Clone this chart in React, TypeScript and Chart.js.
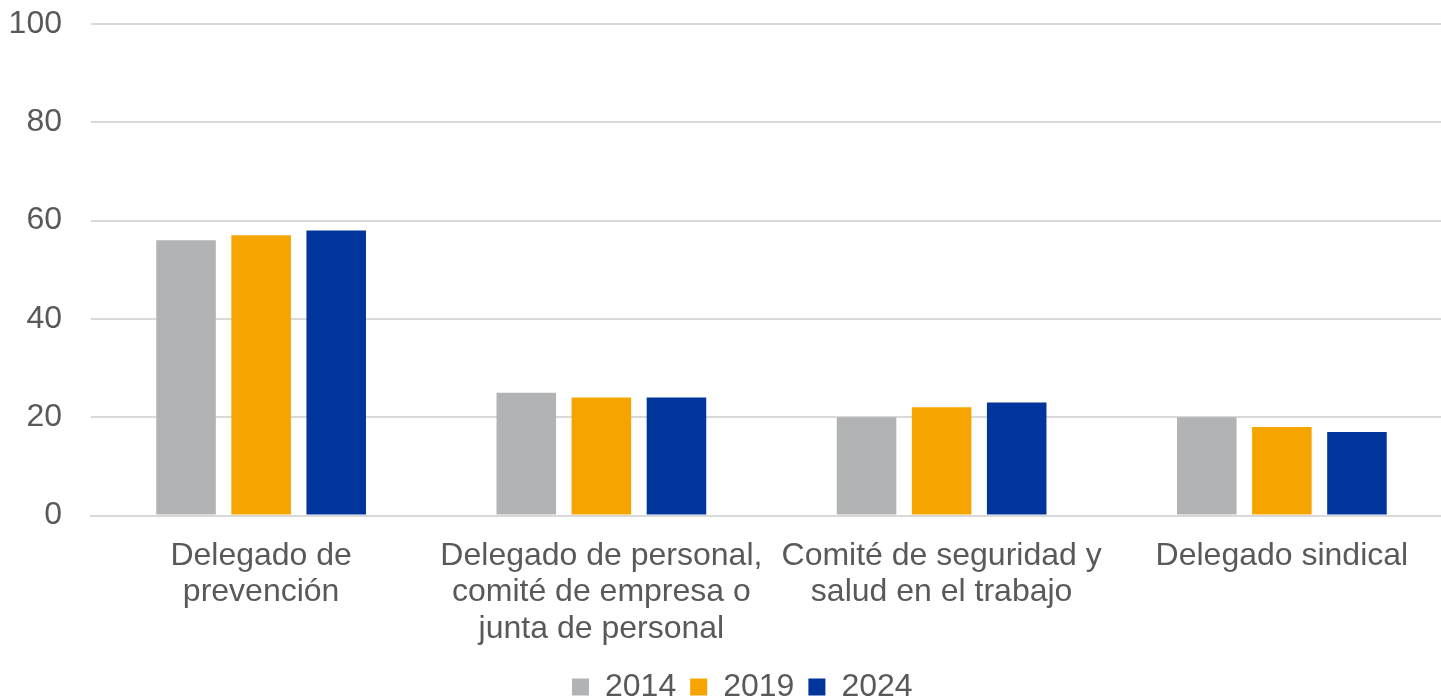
import React, { useEffect, useRef } from "react";
import { Chart, registerables } from "chart.js";

Chart.register(...registerables);

const categories: string[][] = [
  ["Delegado de", "prevención"],
  ["Delegado de personal,", "comité de empresa o", "junta de personal"],
  ["Comité de seguridad y", "salud en el trabajo"],
  ["Delegado sindical"],
];
const seriesLabels = ["2014", "2019", "2024"];
const values2014 = [56, 25, 20, 20];
const values2019 = [57, 24, 22, 18];
const values2024 = [58, 24, 23, 17];
const seriesColors = ["#B2B3B5", "#F5A400", "#00359B"];
const yMin = 0;
const yMax = 100;
const yStep = 20;

const FONT = '"Liberation Sans", Arial, Helvetica, sans-serif';
const TEXT = "#595959";
const GRID = "#D9D9D9";

const legendShift = {
  id: "legendShift",
  afterLayout(chart: any) {
    const l = chart.legend;
    if (l) {
      l.left += 12;
      l.right += 12;
    }
  },
};

export default function App() {
  const ref = useRef<HTMLCanvasElement | null>(null);

  useEffect(() => {
    if (!ref.current) return;
    const chart = new Chart(ref.current, {
      type: "bar",
      data: {
        labels: categories,
        datasets: [values2014, values2019, values2024].map((d, i) => ({
          label: seriesLabels[i],
          data: d,
          backgroundColor: seriesColors[i],
          borderWidth: 0,
          categoryPercentage: 0.662,
          barPercentage: 0.793,
        })),
      },
      plugins: [legendShift],
      options: {
        responsive: true,
        maintainAspectRatio: false,
        animation: false,
        layout: { padding: { left: 8.6, right: 0, top: 24, bottom: 0 } },
        plugins: {
          tooltip: { enabled: false },
          legend: {
            position: "bottom",
            labels: {
              boxWidth: 17,
              boxHeight: 17,
              padding: 14,
              color: TEXT,
              font: { family: FONT, size: 32 },
            },
          },
        },
        scales: {
          x: {
            grid: { display: false, drawTicks: false },
            border: { display: true, color: GRID, width: 2 },
            ticks: {
              color: TEXT,
              font: { family: FONT, size: 32, lineHeight: 1.14 },
              padding: 22,
              maxRotation: 0,
              minRotation: 0,
              autoSkip: false,
            },
            afterFit: (s: any) => {
              s.height = 141.5;
            },
          },
          y: {
            min: yMin,
            max: yMax,
            grid: { color: GRID, lineWidth: 2, drawTicks: false },
            border: { display: false },
            ticks: {
              stepSize: yStep,
              color: TEXT,
              font: { family: FONT, size: 32 },
              padding: 29,
            },
            afterFit: (s: any) => {
              s.width = 82.4;
              s.paddingTop = 0;
              s.paddingBottom = 0;
            },
          },
        },
      },
    });
    return () => chart.destroy();
  }, []);

  return (
    <div
      style={{
        position: "fixed",
        left: 0,
        top: 0,
        width: 1441,
        height: 698,
        overflow: "hidden",
        background: "#fff",
      }}
    >
      <div style={{ position: "absolute", left: 0, top: 0, width: 1452, height: 713 }}>
        <canvas ref={ref} />
      </div>
    </div>
  );
}
